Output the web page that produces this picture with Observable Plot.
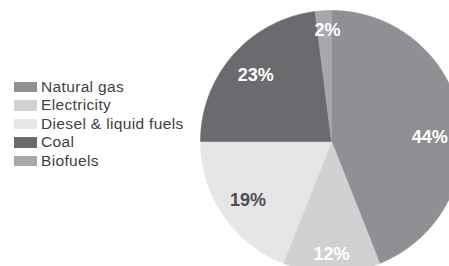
<!DOCTYPE html>
<html>
<head>
<meta charset="utf-8">
<script src="https://cdn.jsdelivr.net/npm/d3@7"></script>
<script src="https://cdn.jsdelivr.net/npm/@observablehq/plot@0.6"></script>
<style>
  html, body { margin: 0; padding: 0; background: #fff; }
  #wrap { position: relative; width: 449px; height: 266px; overflow: hidden; }
  #legend { position: absolute; left: 14px; top: 77.5px; font-family: "Liberation Sans", Arial, sans-serif;
            font-size: 15.5px; letter-spacing: 0.35px; color: #3f3f42; }
  .row { display: flex; align-items: center; height: 18.5px; }
  .sw { width: 23px; height: 10.5px; margin-right: 4px; flex: none; }
</style>
</head>
<body>
<div id="wrap"></div>
<script>
// Data
const categories = ["Natural gas", "Electricity", "Diesel & liquid fuels", "Coal", "Biofuels"];
const shares = [44, 12, 19, 23, 2];
const labels = ["44%", "12%", "19%", "23%", "2%"];
const colors = ["#909094", "#d1d1d3", "#e6e6e8", "#6b6b6f", "#a8a8ac"];
const labelColors = ["#ffffff", "#ffffff", "#4d4d50", "#ffffff", "#ffffff"];

// Layout (styling, not data)
const W = 449, H = 266;
const cx = 331, cy = 141, R = 131;
const labelRadius = {"Natural gas": 0.75, "Electricity": 0.86, "Diesel & liquid fuels": 0.78, "Coal": 0.77, "Biofuels": 0.85};
const labelAngleShift = {"Natural gas": 8.5, "Electricity": 0, "Diesel & liquid fuels": -1, "Coal": 0, "Biofuels": 1.5};

const total = d3.sum(shares);
let acc = 0;
const slices = categories.map((name, i) => {
  const a0 = acc / total * 360;
  acc += shares[i];
  const a1 = acc / total * 360;
  return {name, value: shares[i], label: labels[i], a0, a1};
});

// Wedge outlines in unit coordinates (y grows downward, angle clockwise from 12 o'clock)
const rad = d => d * Math.PI / 180;
const outline = [];
for (const s of slices) {
  outline.push({name: s.name, x: 0, y: 0});
  const n = Math.max(2, Math.ceil((s.a1 - s.a0) / 0.5));
  for (let k = 0; k <= n; k++) {
    const a = rad(s.a0 + (s.a1 - s.a0) * k / n);
    outline.push({name: s.name, x: Math.sin(a), y: -Math.cos(a)});
  }
  outline.push({name: s.name, x: 0, y: 0});
}
const labelPts = slices.map((s, i) => {
  const a = rad((s.a0 + s.a1) / 2 + labelAngleShift[s.name]);
  const r = labelRadius[s.name];
  return {name: s.name, label: s.label, color: labelColors[i], x: r * Math.sin(a), y: -r * Math.cos(a)};
});

const chart = Plot.plot({
  width: W, height: H,
  margin: 0,
  style: {background: "transparent", overflow: "visible"},
  x: {domain: [-cx / R, (W - cx) / R], range: [0, W], axis: null},
  y: {domain: [-cy / R, (H - cy) / R], range: [0, H], axis: null},
  color: {domain: categories, range: colors},
  marks: [
    Plot.line(outline, {x: "x", y: "y", z: "name", fill: "name", stroke: "name", strokeWidth: 0.6, curve: "linear"}),
    Plot.text(labelPts, {x: "x", y: "y", text: "label", fill: d => d.color,
      fontSize: 18, fontWeight: "bold", fontFamily: "Liberation Sans, Arial, sans-serif", letterSpacing: "0.3px"})
  ]
});
const wrap = document.getElementById("wrap");
wrap.appendChild(chart);

// Legend built from the plot's color scale
const colorScale = chart.scale("color");
const legend = document.createElement("div");
legend.id = "legend";
colorScale.domain.forEach(name => {
  const row = document.createElement("div");
  row.className = "row";
  const sw = document.createElement("span");
  sw.className = "sw";
  sw.style.background = colorScale.apply(name);
  const t = document.createElement("span");
  t.textContent = name;
  row.appendChild(sw); row.appendChild(t);
  legend.appendChild(row);
});
wrap.appendChild(legend);
</script>
</body>
</html>
